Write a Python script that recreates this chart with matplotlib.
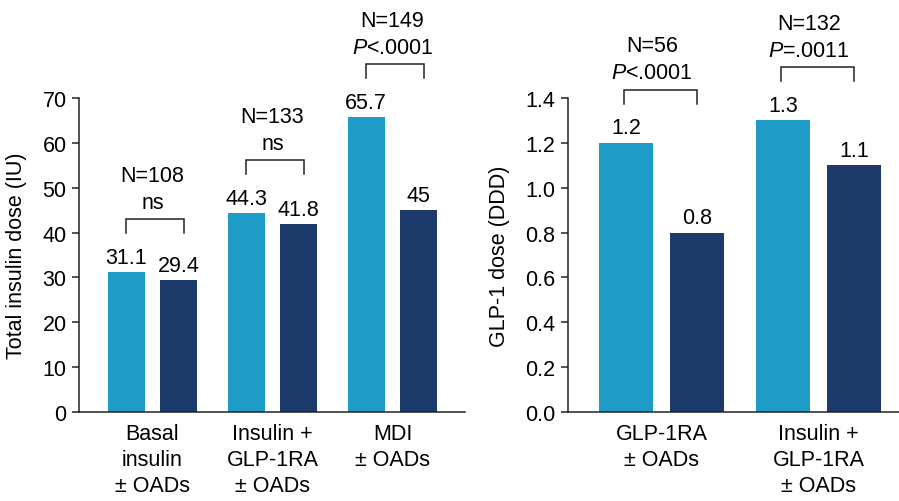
import matplotlib.pyplot as plt
import numpy as np

plt.rcParams['font.family'] = 'Liberation Sans'
plt.rcParams['mathtext.fontset'] = 'custom'
plt.rcParams['mathtext.rm'] = 'Liberation Sans'
plt.rcParams['mathtext.it'] = 'Liberation Sans:italic'

# ---- data ----
left_cats = ['Basal\ninsulin\n± OADs', 'Insulin +\nGLP-1RA\n± OADs', 'MDI\n± OADs']
left_light = [31.1, 44.3, 65.7]
left_dark = [29.4, 41.8, 45]
left_light_lbl = ['31.1', '44.3', '65.7']
left_dark_lbl = ['29.4', '41.8', '45']
left_n = ['N=108', 'N=133', 'N=149']
left_p = ['ns', 'ns', r'$\mathit{P}$<.0001']

right_cats = ['GLP-1RA\n± OADs', 'Insulin +\nGLP-1RA\n± OADs']
right_light = [1.2, 1.3]
right_dark = [0.8, 1.1]
right_light_lbl = ['1.2', '1.3']
right_dark_lbl = ['0.8', '1.1']
right_n = ['N=56', 'N=132']
right_p = [r'$\mathit{P}$<.0001', r'$\mathit{P}$=.0011']

light_c = '#1f9bc8'
dark_c = '#1c3a6a'
fs = 15.5
DPI = 100
W, H = 899, 502


def draw(ax, cats, light, dark, light_lbl, dark_lbl, nlab, plab,
         width, off, ylim, yticks, yfmt, ylabel, lab_x, txt_shift, br_l, br_r):
    x = np.arange(len(cats))
    ax.bar(x - off, light, width, color=light_c)
    ax.bar(x + off, dark, width, color=dark_c)

    # pixels -> data units on y
    ax_h = ax.get_position().height * H
    ppx = (ylim[1] - ylim[0]) / ax_h

    for i in range(len(cats)):
        ax.text(x[i] - off, light[i] + 15 * ppx, light_lbl[i], ha='center', va='center', fontsize=fs)
        ax.text(x[i] + off, dark[i] + 15 * ppx, dark_lbl[i], ha='center', va='center', fontsize=fs)
        top = max(light[i], dark[i])
        leg = top + 39 * ppx
        hor = leg + 14 * ppx
        x0, x1 = x[i] - br_l, x[i] + br_r
        ax.plot([x0, x0, x1, x1], [leg, hor, hor, leg], color='#222222', lw=1.1,
                clip_on=False, solid_joinstyle='miter')
        ax.text(x[i] + txt_shift, hor + 17 * ppx, plab[i], ha='center', va='center', fontsize=fs)
        ax.text(x[i] + txt_shift, hor + 44 * ppx, nlab[i], ha='center', va='center', fontsize=fs)

    ax.set_ylim(*ylim)
    ax.set_yticks(yticks)
    ax.set_yticklabels([yfmt.format(v) for v in yticks])
    ax.set_xticks(x)
    ax.set_xticklabels(cats, linespacing=1.3)
    ax.tick_params(axis='x', length=0, pad=8, labelsize=fs)
    ax.tick_params(axis='y', length=5, width=1.1, pad=4, labelsize=fs, color='#222222')
    ax.set_ylabel(ylabel, fontsize=fs)
    ax.yaxis.set_label_coords(lab_x, 0.5)
    for s in ['top', 'right']:
        ax.spines[s].set_visible(False)
    for s in ['left', 'bottom']:
        ax.spines[s].set_linewidth(1.1)
        ax.spines[s].set_color('#222222')


fig = plt.figure(figsize=(W / DPI, H / DPI), dpi=DPI)

ax1 = fig.add_axes([79 / W, 89 / H, 386 / W, 314 / H])
ax1.set_xlim(-0.6125, 2.604)
draw(ax1, left_cats, left_light, left_dark, left_light_lbl, left_dark_lbl, left_n, left_p,
     0.308, 0.219, (0, 70), list(range(0, 71, 10)), '{:d}', 'Total insulin dose (IU)',
     -0.135, 0.0, 0.22, 0.26)

ax2 = fig.add_axes([568 / W, 89 / H, 331 / W, 314 / H])
ax2.set_xlim(-0.596, 1.513)
draw(ax2, right_cats, right_light, right_dark, right_light_lbl, right_dark_lbl, right_n, right_p,
     0.344, 0.226, (0, 1.4), [0, 0.2, 0.4, 0.6, 0.8, 1.0, 1.2, 1.4], '{:.1f}', 'GLP-1 dose (DDD)',
     -0.175, -0.06, 0.238, 0.226)

fig.savefig('out.png', dpi=DPI, facecolor='white')
